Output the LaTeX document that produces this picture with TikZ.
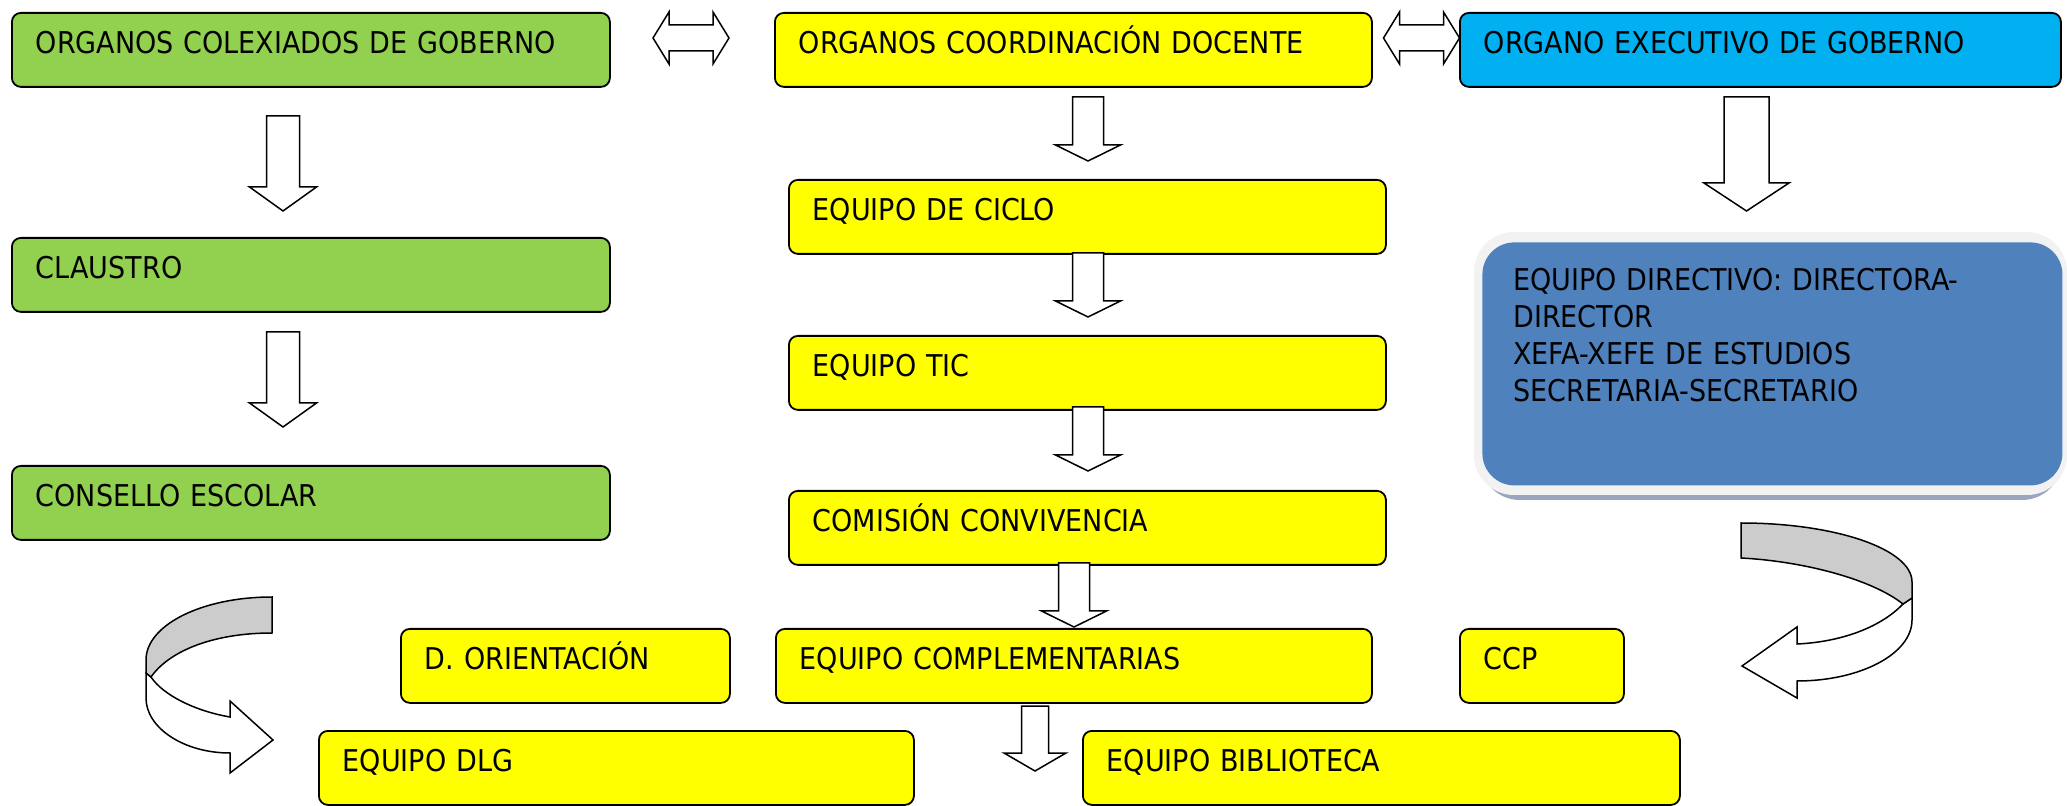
\documentclass[tikz,border=0pt]{standalone}
\usepackage{fontspec}
\newfontfamily\boxfont{DejaVu Sans Condensed}
\definecolor{grn}{HTML}{92D050}
\definecolor{ylw}{HTML}{FFFF00}
\definecolor{cyn}{HTML}{00B0F0}
\definecolor{stl}{HTML}{4F81BD}
\definecolor{ribbon}{HTML}{CCCCCC}
\definecolor{framegray}{HTML}{F2F2F2}
\definecolor{shadeblue}{HTML}{9AA6BD}
\tikzset{
  box/.style={draw=black, line width=0.9pt, rounded corners=4.5pt, anchor=north west,
    inner xsep=12pt, inner ysep=0pt, text height=20.5pt, text depth=16.5pt, align=left,
    font=\boxfont\fontsize{15}{18.5}\selectfont},
  blockarrow/.style={draw=black, line width=0.75pt, fill=white, line join=miter},
  pics/downarr/.style n args={4}{code={
    \draw[blockarrow] (-#1,0) -- (#1,0) -- (#1,#3) -- (#2,#3) -- (0,#4) -- (-#2,#3) -- (-#1,#3) -- cycle;
  }},
  pics/dblarr/.style={code={
    \draw[blockarrow] (-38,0) -- (-22,-26) -- (-22,-13) -- (22,-13) -- (22,-26) -- (38,0)
      -- (22,26) -- (22,13) -- (-22,13) -- (-22,26) -- cycle;
  }},
}
\begin{document}
\begin{tikzpicture}[x=0.5pt,y=-0.5pt]
\useasboundingbox (0,0) rectangle (2067,806);

% top row
\node[box, fill=grn, text width=275pt] (colex) at (11,12) {ORGANOS COLEXIADOS DE GOBERNO};
\node[box, fill=ylw, text width=274.5pt] (coord) at (774,12) {ORGANOS COORDINACIÓN DOCENTE};
\node[box, fill=cyn, text width=276.5pt] (exec) at (1459,12) {ORGANO EXECUTIVO DE GOBERNO};
\pic (d1) at (691,38) {dblarr};
\pic (d2) at (1421.5,38) {dblarr};

% left column
\pic (la1) at (283,116) {downarr={16.5}{33.5}{71}{95}};
\node[box, fill=grn, text width=275pt] (claustro) at (11,237) {CLAUSTRO};
\pic (la2) at (283,332) {downarr={16.5}{33.5}{71}{95}};
\node[box, fill=grn, text width=275pt] (consello) at (11,465) {CONSELLO ESCOLAR};

% centre column
\pic (ca1) at (1088,97) {downarr={15.5}{32.5}{48}{64}};
\node[box, fill=ylw, text width=274.5pt] (ciclo) at (788,179) {EQUIPO DE CICLO};
\pic (ca2) at (1088,253) {downarr={15.5}{32.5}{48}{64}};
\node[box, fill=ylw, text width=274.5pt] (tic) at (788,335) {EQUIPO TIC};
\pic (ca3) at (1088,407) {downarr={15.5}{32.5}{48}{64}};
\node[box, fill=ylw, text width=274.5pt] (conv) at (788,490) {COMISIÓN CONVIVENCIA};
\pic (ca4) at (1074,563) {downarr={15.5}{32.5}{48}{64}};

\node[box, fill=ylw, text width=140.5pt] (orient) at (400,628) {D. ORIENTACIÓN};
\node[box, fill=ylw, text width=274pt] (compl) at (775,628) {EQUIPO COMPLEMENTARIAS};
\node[box, fill=ylw, text width=58pt] (ccp) at (1459,628) {CCP};
\pic (ca5) at (1035,706) {downarr={13.5}{31}{47}{65}};
\node[box, fill=ylw, text width=273.5pt] (dlg) at (318,730) {EQUIPO DLG};
\node[box, fill=ylw, text width=274.5pt] (bib) at (1082,730) {EQUIPO BIBLIOTECA};

% right column
\pic (ra1) at (1746.5,97) {downarr={22.5}{42.5}{86}{114}};
\fill[shadeblue, rounded corners=20pt] (1480,300) rectangle (2062,500);
\fill[framegray, rounded corners=20pt] (1474,232) rectangle (2067,495);
\node[fill=stl, rounded corners=16pt, anchor=north west, inner xsep=15.5pt, inner ysep=0pt,
  text width=259pt, text height=24pt, text depth=97.5pt, align=left,
  font=\boxfont\fontsize{15}{18.5}\selectfont] (dir) at (1482,242)
  {EQUIPO DIRECTIVO: DIRECTORA-\\DIRECTOR\\XEFA-XEFE DE ESTUDIOS\\SECRETARIA-SECRETARIO};

% curved arrow right
\draw[blockarrow] (1903,604) .. controls (1880,628) and (1840,642) .. (1797,644)
  -- (1797,627) -- (1742,666) -- (1797,698) -- (1797,681)
  .. controls (1860.5,681) and (1912,653.7) .. (1912,620) -- (1912,598) -- cycle;
\draw[blockarrow, fill=ribbon] (1741,523) .. controls (1835,523) and (1912,549) .. (1912,582)
  -- (1912,598) -- (1903,604) .. controls (1870,578) and (1800,561) .. (1741,558) -- cycle;

% curved arrow left
\draw[blockarrow] (151,677) .. controls (163,695) and (195,711) .. (230,717)
  -- (230,701) -- (273,740) -- (230,773) -- (230,753)
  .. controls (184,753) and (146,728) .. (146,698) -- (146,673) -- cycle;
\draw[blockarrow, fill=ribbon] (272,597) .. controls (202,597) and (146,625) .. (146,660)
  -- (146,673) -- (151,677) .. controls (170,650) and (215,633) .. (272,633) -- cycle;
\end{tikzpicture}
\end{document}
